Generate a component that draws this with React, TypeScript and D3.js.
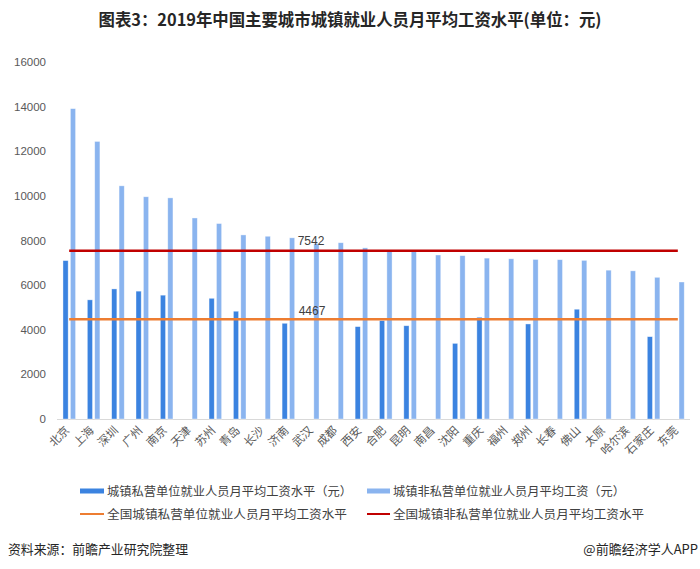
import React from "react";
import * as d3 from "d3";

const cities = ["北京","上海","深圳","广州","南京","天津","苏州","青岛","长沙","济南","武汉","成都","西安","合肥","昆明","南昌","沈阳","重庆","福州","郑州","长春","佛山","太原","哈尔滨","石家庄","东莞"];
const privateWage: (number | null)[] = [7100,5340,5830,5730,5550,null,5410,4830,null,4290,null,null,4140,4410,4180,null,3390,4560,null,4260,null,4920,null,null,3690,null];
const nonPrivateWage = [13910,12440,10450,9960,9910,9010,8760,8250,8190,8120,7860,7900,7670,7570,7560,7350,7320,7210,7180,7150,7140,7110,6670,6640,6350,6140];
const natPrivate = 4467;
const natNonPrivate = 7542;
const yTicks = [0,2000,4000,6000,8000,10000,12000,14000,16000];
const legendLabels = ["城镇私营单位就业人员月平均工资水平（元）","城镇非私营单位就业人员月平均工资（元）","全国城镇私营单位就业人员月平均工资水平","全国城镇非私营单位就业人员月平均工资水平"];

const W = 700, H = 569;
const DARK = "#3b83e0";
const LIGHT = "#8ab4ef";
const ORANGE = "#ed7d31";
const RED = "#c00000";
const CJK = "'Noto Sans CJK SC', 'Noto Sans', sans-serif";
const LAT = "'Liberation Sans', Arial, sans-serif";

export default function App() {
  const x = d3.scaleBand<string>().domain(cities).range([57, 690]).padding(0);
  const y = d3.scaleLinear().domain([0, 16000]).range([419, 62]);
  const cx = (c: string) => (x(c) as number) + x.bandwidth() / 2;
  const bw = 5.2;
  const first = cx(cities[0]);
  const last = cx(cities[cities.length - 1]);
  const labelCity = "武汉";

  return (
    <svg width={W} height={H} style={{ position: "absolute", left: 0, top: 0, background: "#fff" }}>
      <rect x={0} y={0} width={W} height={H} fill="#fff" />
      <text x={350} y={26} textAnchor="middle" fontFamily={CJK} fontWeight="bold" fontSize={16.5}
        fill="#262626" textLength={503} lengthAdjust="spacingAndGlyphs">
        图表3：2019年中国主要城市城镇就业人员月平均工资水平(单位：元)
      </text>

      {yTicks.map((t) => (
        <text key={t} x={46} y={y(t) + 4} textAnchor="end" fontFamily={LAT} fontSize={11.5} fill="#595959">{t}</text>
      ))}

      <line x1={57} x2={690} y1={419.5} y2={419.5} stroke="#d9d9d9" strokeWidth={1} />

      {cities.map((c, i) => (
        <g key={c}>
          {privateWage[i] != null && (
            <rect x={cx(c) - 6.2} y={y(privateWage[i] as number)} width={bw}
              height={y(0) - y(privateWage[i] as number)} fill={DARK} stroke="#ffffff" strokeOpacity={0.55} strokeWidth={0.7} />
          )}
          <rect x={cx(c) + 1.2} y={y(nonPrivateWage[i])} width={bw}
            height={y(0) - y(nonPrivateWage[i])} fill={LIGHT} stroke="#ffffff" strokeOpacity={0.55} strokeWidth={0.7} />
        </g>
      ))}

      <line x1={first} x2={last} y1={y(natPrivate)} y2={y(natPrivate)} stroke={ORANGE} strokeWidth={2.5} />
      <line x1={first} x2={last} y1={y(natNonPrivate)} y2={y(natNonPrivate)} stroke={RED} strokeWidth={2.5} />
      <text x={cx(labelCity) - 15} y={y(natNonPrivate) - 5.5} fontFamily={LAT} fontSize={12} fill="#404040">{natNonPrivate}</text>
      <text x={cx(labelCity) - 14} y={y(natPrivate) - 4.5} fontFamily={LAT} fontSize={12} fill="#404040">{natPrivate}</text>

      {cities.map((c) => (
        <text key={"l" + c} transform={`translate(${cx(c) + 1},${431}) rotate(-45)`} textAnchor="end"
          fontFamily={CJK} fontSize={11.5} fill="#595959">{c}</text>
      ))}

      <g fontFamily={CJK} fontSize={12} fill="#404040">
        <rect x={80} y={488.5} width={24} height={5} fill={DARK} />
        <text x={107} y={496} textLength={245} lengthAdjust="spacingAndGlyphs">{legendLabels[0]}</text>
        <rect x={367} y={488.5} width={23} height={5} fill={LIGHT} />
        <text x={393} y={496} textLength={232} lengthAdjust="spacingAndGlyphs">{legendLabels[1]}</text>
        <line x1={80} x2={104} y1={514} y2={514} stroke={ORANGE} strokeWidth={2} />
        <text x={107} y={518.5} textLength={240} lengthAdjust="spacingAndGlyphs">{legendLabels[2]}</text>
        <line x1={367} x2={390} y1={514} y2={514} stroke={RED} strokeWidth={2} />
        <text x={393} y={518.5} textLength={251} lengthAdjust="spacingAndGlyphs">{legendLabels[3]}</text>
      </g>

      <text x={8} y={554} fontFamily={CJK} fontSize={13} fill="#262626" textLength={180} lengthAdjust="spacingAndGlyphs">资料来源：前瞻产业研究院整理</text>
      <text x={698} y={554} textAnchor="end" fontFamily={CJK} fontSize={13} fill="#262626">@前瞻经济学人APP</text>
    </svg>
  );
}
